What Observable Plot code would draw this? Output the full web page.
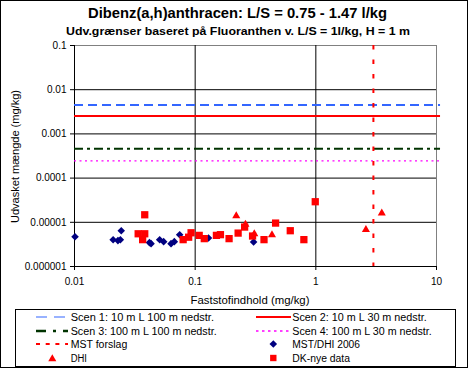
<!DOCTYPE html>
<html><head><meta charset="utf-8">
<script src="https://cdn.jsdelivr.net/npm/d3@7"></script>
<script src="https://cdn.jsdelivr.net/npm/@observablehq/plot@0.6"></script>
<style>
body{margin:0;background:#fff;}
#wrap{position:relative;width:470px;height:369px;overflow:hidden;font-family:"Liberation Sans",Arial,sans-serif;}
#wrap svg{position:absolute;left:0;top:0;}
</style></head><body><div id="wrap"></div>
<script>
// ---- data ----
const titleText = "Dibenz(a,h)anthracen: L/S = 0.75 - 1.47 l/kg";
const subtitleText = "Udv.grænser baseret på Fluoranthen v. L/S = 1l/kg, H = 1 m";
const xLabel = "Faststofindhold (mg/kg)";
const yLabel = "Udvasket mængde (mg/kg)";
const xTicks = [0.01, 0.1, 1, 10];
const yTicks = [0.1, 0.01, 0.001, 0.0001, 0.00001, 0.000001];
const scenNames = ["Scen 1:  10 m L 100 m nedstr.", "Scen 2: 10 m L 30 m nedstr.", "Scen 3: 100 m  L 100 m nedstr.", "Scen 4: 100 m  L 30 m nedstr."];
const scenValues = [0.0045, 0.00254, 0.00046, 0.000245];
const scenXStart = [0.01, 0.01, 0.01, 0.01];
const scenXEnd = [10.8, 10.8, 10.8, 10.8];
const mstForslagName = "MST forslag";
const mstForslagX = [3];
const mstDhiName = "MST/DHI 2006";
const mstDhiX = [0.0101, 0.0209, 0.0229, 0.024, 0.0244, 0.0418, 0.0431, 0.0508, 0.0548, 0.0631, 0.0672, 0.0744, 0.129, 0.305];
const mstDhiY = [4.7e-6, 4.05e-6, 3.85e-6, 4.05e-6, 6.45e-6, 3.47e-6, 3.29e-6, 4.05e-6, 3.65e-6, 3.29e-6, 3.65e-6, 5.25e-6, 4.4e-6, 3.57e-6];
const dhiName = "DHI";
const dhiX = [0.219, 0.261, 0.309, 0.433, 2.6, 3.52];
const dhiY = [1.39e-5, 9.0e-6, 5.45e-6, 5.2e-6, 6.8e-6, 1.6e-5];
const dkName = "DK-nye data";
const dkX = [0.0382, 0.0337, 0.0382, 0.0367, 0.0795, 0.0925, 0.0883, 0.108, 0.119, 0.150, 0.162, 0.191, 0.227, 0.257, 0.299, 0.372, 0.464, 0.614, 0.796, 0.989];
const dkY = [1.48e-5, 5.5e-6, 5.5e-6, 4.05e-6, 4.05e-6, 5.8e-6, 4.6e-6, 5.06e-6, 4.27e-6, 5.06e-6, 5.25e-6, 4.27e-6, 5.7e-6, 7.8e-6, 4.89e-6, 4.05e-6, 9.6e-6, 6.45e-6, 4.05e-6, 2.92e-5];

// ---- styles ----
const scenStyles = [
  {stroke:"#3366FF", strokeWidth:2, dash:"9,5", legendWidth:1.2, legendDash:"11,7"},
  {stroke:"#FF0000", strokeWidth:2, dash:null, legendWidth:2, legendDash:null},
  {stroke:"#003300", strokeWidth:2, dash:"9,4,3,4", legendWidth:2.5, legendDash:"10,7,3,7"},
  {stroke:"#FF00FF", strokeWidth:1.3, dash:"2,3.5", legendWidth:1.5, legendDash:"2.5,3.5"}
];
const navy = "#000080", red = "#FF0000";

const pts = (xs, ys) => xs.map((x, i) => ({x, y: ys[i]}));
const scen = scenValues.map((v, i) => ({v, x1: scenXStart[i], x2: scenXEnd[i]}));
const fmt = d3.format("~f");

const chart = Plot.plot({
  width: 470, height: 369,
  marginTop: 45, marginBottom: 103, marginLeft: 74, marginRight: 34,
  style: {background: "transparent", fontFamily: "'Liberation Sans', Arial, sans-serif", fontSize: "10px", color: "#000", overflow: "visible"},
  x: {type: "log", domain: [0.01, 10], label: null},
  y: {type: "log", domain: [1e-6, 0.1], label: null},
  marks: [
    Plot.ruleY([0.1], {stroke: "#808080"}),
    Plot.ruleX([10], {stroke: "#808080"}),
    Plot.ruleY(yTicks.filter(v => v < 0.1 && v > 1e-6), {stroke: "#000"}),
    Plot.ruleX(xTicks.filter(v => v > 0.01 && v < 10), {stroke: "#000"}),
    Plot.ruleX([0.01], {stroke: "#000"}),
    Plot.ruleY([1e-6], {stroke: "#000"}),
    Plot.axisX({ticks: xTicks, tickFormat: fmt, tickSize: 4, tickPadding: 7, label: null, stroke: "#000"}),
    Plot.axisY({ticks: yTicks, tickFormat: fmt, tickSize: 4, tickPadding: 4, label: null, stroke: "#000"}),
    ...scen.map((s, i) => Plot.ruleY([s], {y: "v", x1: "x1", x2: "x2", stroke: scenStyles[i].stroke, strokeWidth: scenStyles[i].strokeWidth, strokeDasharray: scenStyles[i].dash || undefined})),
    Plot.ruleX(mstForslagX, {stroke: red, strokeWidth: 2, strokeDasharray: "4.5,10"}),
    Plot.dot(pts(mstDhiX, mstDhiY), {x: "x", y: "y", symbol: "diamond2", r: 3.4, fill: navy, stroke: "none"}),
    Plot.dot(pts(dhiX, dhiY), {x: "x", y: "y", symbol: "triangle", r: 3, fill: red, stroke: "none"}),
    Plot.dot(pts(dkX, dkY), {x: "x", y: "y", symbol: "square", r: 4.1, fill: red, stroke: "none"})
  ]
});
const wrap = document.getElementById("wrap");
wrap.appendChild(chart);

// ---- overlay: titles, axis labels, legend, border ----
const ov = d3.create("svg").attr("width", 470).attr("height", 369)
  .style("font-family", "'Liberation Sans', Arial, sans-serif");
ov.append("rect").attr("x", 0.5).attr("y", 0.5).attr("width", 467).attr("height", 367)
  .attr("fill", "none").attr("stroke", "#000");
function txt(s, x, y, size, len, opts = {}) {
  const t = ov.append("text").attr("x", x).attr("y", y).attr("font-size", size)
    .attr("text-anchor", opts.anchor || "start").attr("fill", "#000").text(s);
  if (opts.bold) t.attr("font-weight", "bold");
  if (len) t.attr("textLength", len).attr("lengthAdjust", "spacingAndGlyphs");
  if (opts.rotate) t.attr("transform", `rotate(-90 ${x} ${y})`);
  return t;
}
txt(titleText, 237.5, 18.3, 15, 299, {bold: true, anchor: "middle"});
txt(subtitleText, 238, 34.5, 11, 344, {bold: true, anchor: "middle"});
txt(xLabel, 250, 303.5, 10, 119, {anchor: "middle"});
txt(yLabel, 19, 156.5, 10, 133, {anchor: "middle", rotate: true});

// legend
ov.append("rect").attr("x", 15.5).attr("y", 309.5).attr("width", 440).attr("height", 57)
  .attr("fill", "none").attr("stroke", "#000");
const rowY = [317, 331, 344, 358];
function legLine(x1, x2, y, st) {
  const l = ov.append("line").attr("x1", x1).attr("x2", x2).attr("y1", y).attr("y2", y)
    .attr("stroke", st.stroke).attr("stroke-width", st.legendWidth);
  if (st.legendDash) l.attr("stroke-dasharray", st.legendDash);
}
legLine(36, 68, rowY[0], scenStyles[0]);
txt(scenNames[0], 70.7, rowY[0] + 3.6, 10, 143.3);
legLine(256, 291, rowY[0], scenStyles[1]);
txt(scenNames[1], 292.3, rowY[0] + 3.6, 10, 134.4);
legLine(36, 68, rowY[1], scenStyles[2]);
txt(scenNames[2], 70.7, rowY[1] + 3.6, 10, 146);
legLine(256, 291, rowY[1], scenStyles[3]);
txt(scenNames[3], 292.3, rowY[1] + 3.6, 10, 139.4);
legLine(36, 68, rowY[2], {stroke: red, legendWidth: 2, legendDash: "4,5.7"});
txt(mstForslagName, 70.7, rowY[2] + 3.6, 10, 56.6);
const sym = (type, r) => d3.symbol(type, Math.PI * r * r)();
ov.append("path").attr("d", sym(d3.symbolDiamond2, 3.4)).attr("fill", navy).attr("transform", `translate(273.3,${rowY[2]})`);
txt(mstDhiName, 292.3, rowY[2] + 3.6, 10, 67.7);
ov.append("path").attr("d", sym(d3.symbolTriangle, 3)).attr("fill", red).attr("transform", `translate(52.3,${rowY[3] + 1})`);
txt(dhiName, 70.7, rowY[3] + 3.6, 10, 16.3);
ov.append("path").attr("d", sym(d3.symbolSquare, 3.6)).attr("fill", red).attr("transform", `translate(273.3,${rowY[3]})`);
txt(dkName, 292.3, rowY[3] + 3.6, 10, 57.7);
wrap.appendChild(ov.node());
</script></body></html>
